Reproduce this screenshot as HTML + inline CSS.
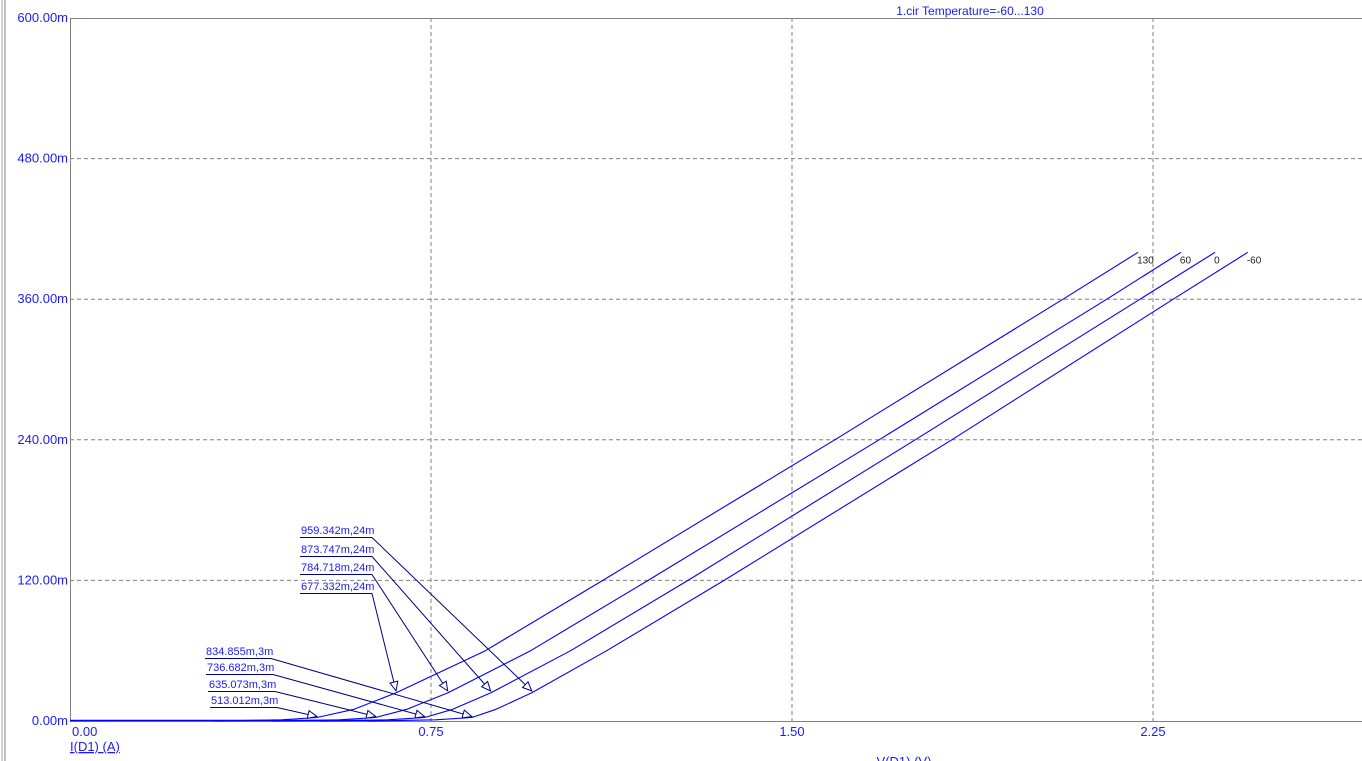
<!DOCTYPE html>
<html><head><meta charset="utf-8"><style>
html,body{margin:0;padding:0;background:#fff;}
svg{display:block;font-family:"Liberation Sans",Arial,sans-serif;}
</style></head><body>
<svg id="chart" width="1362" height="761" viewBox="0 0 1362 761">
<rect x="0" y="0" width="1362" height="761" fill="#fff"/>
<line x1="2" y1="0" x2="2" y2="761" stroke="#a0a0a0" stroke-width="1"/>
<line x1="5" y1="0" x2="5" y2="761" stroke="#808080" stroke-width="1"/>
<g id="grid"></g>
<g id="frame"></g>
<g id="ticks"></g>
<g id="series"></g>
<g id="annots"></g>
<text x="970" y="15" font-size="12" fill="#1a1aff" text-anchor="middle">1.cir Temperature=-60...130</text>
<text x="70" y="751" font-size="13" fill="#1a1aff" text-decoration="underline">I(D1) (A)</text>
<text x="904" y="766" font-size="13" fill="#1a1aff" text-anchor="middle">V(D1) (V)</text>
</svg>
<script>
const xTicks = [0, 0.75, 1.5, 2.25];
const xTickLabels = ["0.00", "0.75", "1.50", "2.25"];
const yTicks = [0, 0.12, 0.24, 0.36, 0.48, 0.6];
const yTickLabels = ["0.00m", "120.00m", "240.00m", "360.00m", "480.00m", "600.00m"];
const seriesNames = ["130", "60", "0", "-60"];
const currents = [0, 0.001, 0.003, 0.01, 0.024, 0.06, 0.12, 0.24, 0.36, 0.4];
const v130 = [0.30, 0.44, 0.513, 0.59, 0.677, 0.863, 1.107, 1.589, 2.063, 2.219];
const v60 = [0.42, 0.56, 0.635, 0.70, 0.785, 0.957, 1.201, 1.681, 2.154, 2.308];
const v0 = [0.52, 0.66, 0.737, 0.795, 0.874, 1.04, 1.284, 1.756, 2.223, 2.379];
const vm60 = [0.62, 0.76, 0.835, 0.885, 0.959, 1.115, 1.359, 1.832, 2.292, 2.447];
const ann24Labels = ["959.342m,24m", "873.747m,24m", "784.718m,24m", "677.332m,24m"];
const ann24X = [0.959342, 0.873747, 0.784718, 0.677332];
const ann3Labels = ["834.855m,3m", "736.682m,3m", "635.073m,3m", "513.012m,3m"];
const ann3X = [0.834855, 0.736682, 0.635073, 0.513012];

const NS = "http://www.w3.org/2000/svg";
const X0 = 70, PX_PER_V = 481.33, Y0 = 721, PX_PER_A = 703 / 0.6;
const sx = v => X0 + v * PX_PER_V;
const sy = a => Y0 - a * PX_PER_A;
function mk(tag, attrs, parent) {
  const e = document.createElementNS(NS, tag);
  for (const k in attrs) e.setAttribute(k, attrs[k]);
  parent.appendChild(e);
  return e;
}
const grid = document.getElementById('grid');
xTicks.forEach((t, i) => {
  if (i === 0) return;
  const l = mk('line', {x1: sx(t), y1: 18, x2: sx(t), y2: Y0, stroke: '#808080', 'stroke-dasharray': '4,3'}, grid);
  
  
});
yTicks.forEach((t, i) => {
  if (i === 0 || i === yTicks.length - 1) return;
  const l = mk('line', {x1: X0, y1: sy(t), x2: 1362, y2: sy(t), stroke: '#808080', 'stroke-dasharray': '4,3'}, grid);
  
  
});
const frame = document.getElementById('frame');
let f = mk('path', {d: `M${X0+0.5},${Y0} V18.5 H1362`, fill: 'none', stroke: '#808080'}, frame);


f = mk('line', {x1: X0, y1: Y0 + 0.5, x2: 1362, y2: Y0 + 0.5, stroke: '#808080'}, frame);


const ticks = document.getElementById('ticks');
xTicks.forEach((t, i) => {
  const tx = mk('text', {x: i === 0 ? sx(t) + 2 : sx(t), y: 736, 'font-size': 13, fill: '#1a1aff', 'text-anchor': i === 0 ? 'start' : 'middle'}, ticks);
  tx.textContent = xTickLabels[i];
  
  
});
yTicks.forEach((t, i) => {
  const tx = mk('text', {x: 68, y: sy(t) + 4, 'font-size': 13, fill: '#1a1aff', 'text-anchor': 'end'}, ticks);
  tx.textContent = yTickLabels[i];
  
  
});
const series = document.getElementById('series');
const base = mk('line', {x1: X0, y1: Y0 - 0.5, x2: sx(vm60[0]), y2: Y0 - 0.5, stroke: '#0000ff', 'stroke-width': 1.5}, series);


const allV = [v130, v60, v0, vm60];
allV.forEach((vs, si) => {
  let d = '';
  vs.forEach((v, i) => { d += (i ? 'L' : 'M') + sx(v).toFixed(1) + ',' + sy(currents[i]).toFixed(1); });
  const p = mk('path', {d: d, fill: 'none', stroke: '#0000ff', 'stroke-width': 1.1, 'stroke-linejoin': 'round'}, series);
  
  
  const last = vs.length - 1;
  const lb = mk('text', {x: sx(vs[last]) - 1, y: sy(currents[last]) + 11, 'font-size': 10, fill: '#202020'}, series);
  lb.textContent = seriesNames[si];
  
  
});
const annots = document.getElementById('annots');
function arrow(x1, y1, x2, y2) {
  mk('line', {x1: x1, y1: y1, x2: x2, y2: y2, stroke: '#000080', 'stroke-width': 1}, annots);
  const a = Math.atan2(y2 - y1, x2 - x1), L = 9, W = 4;
  const bx = x2 - L * Math.cos(a), by = y2 - L * Math.sin(a);
  const px = -Math.sin(a) * W, py = Math.cos(a) * W;
  mk('polygon', {points: `${x2},${y2} ${bx+px},${by+py} ${bx-px},${by-py}`, fill: '#fff', stroke: '#000080', 'stroke-width': 1}, annots);
}
const u24 = [537, 556, 574, 593];
ann24Labels.forEach((lab, i) => {
  const t = mk('text', {x: 301, y: u24[i] - 3, 'font-size': 11, fill: '#1a1aff'}, annots);
  t.textContent = lab;
  
  
  mk('line', {x1: 300, y1: u24[i] + 0.5, x2: 372, y2: u24[i] + 0.5, stroke: '#000080'}, annots);
  arrow(372, u24[i] + 0.5, sx(ann24X[i]), sy(0.024) - 2);
});
const u3 = [658, 674, 691, 707];
const l3x = [206, 207, 209, 211];
const e3x = [271, 273, 275, 277];
ann3Labels.forEach((lab, i) => {
  const t = mk('text', {x: l3x[i], y: u3[i] - 3, 'font-size': 11, fill: '#1a1aff'}, annots);
  t.textContent = lab;
  
  
  mk('line', {x1: l3x[i] - 1, y1: u3[i] + 0.5, x2: e3x[i], y2: u3[i] + 0.5, stroke: '#000080'}, annots);
  arrow(e3x[i], u3[i] + 0.5, sx(ann3X[i]), sy(0.003) - 1);
});
</script>
</body></html>
